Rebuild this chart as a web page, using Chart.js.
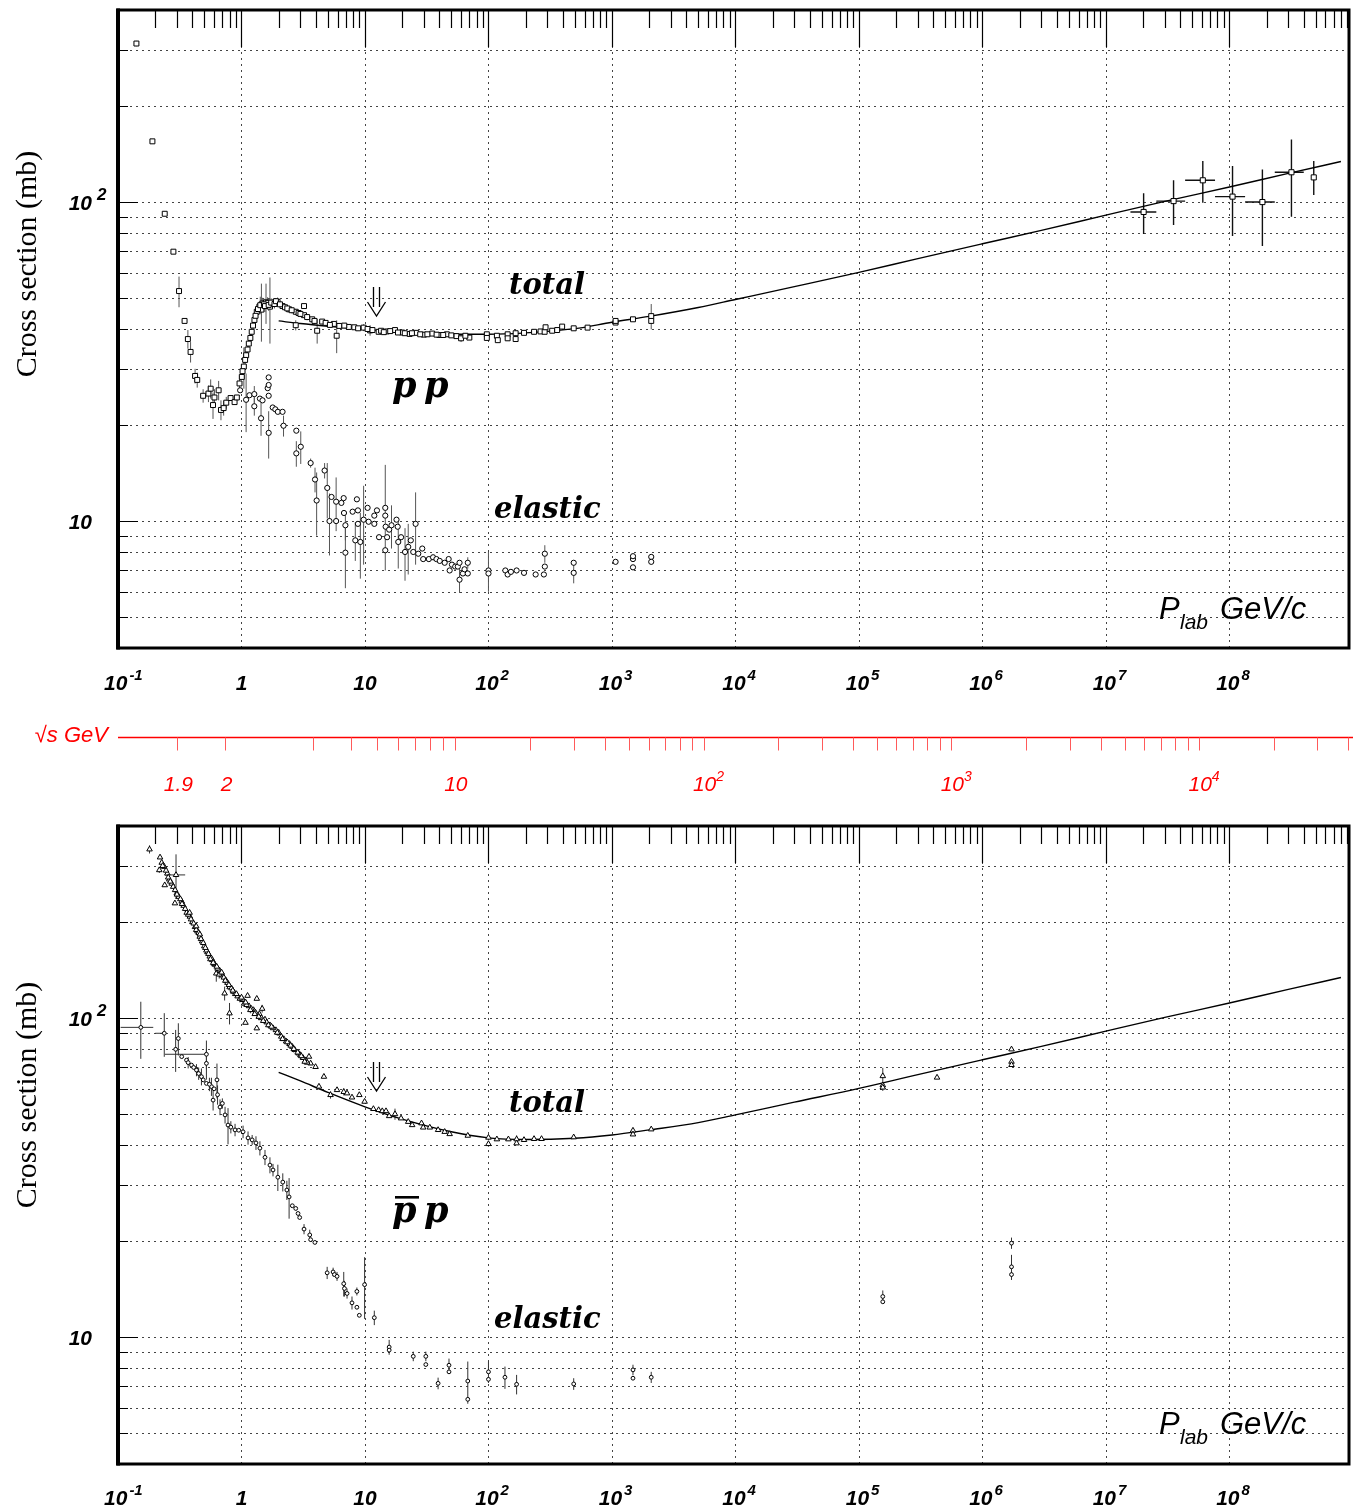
<!DOCTYPE html>
<html>
<head>
<meta charset="utf-8">
<script src="https://cdn.jsdelivr.net/npm/chart.js@4.4.1/dist/chart.umd.min.js"></script>
<style>
  html, body { margin: 0; padding: 0; background: #fff; }
  #wrap { position: relative; width: 1354px; height: 1510px; overflow: hidden; }
  canvas { position: absolute; left: 0; }
</style>
</head>
<body>
<div id="wrap">
  <canvas id="ppChart" width="1354" height="705" style="top:0"></canvas>
  <canvas id="sqrtsAxis" width="1354" height="105" style="top:705px"></canvas>
  <canvas id="pbarChart" width="1354" height="700" style="top:810px"></canvas>
</div>
<script>
// axis ranges and ticks
const pMin = 0.1, pMax = 9.3e8;
const sigMin = 4, sigMax = 400;
const xDecades = [0.1, 1, 10, 1e2, 1e3, 1e4, 1e5, 1e6, 1e7, 1e8];
const xLabelBase = ['10', '1', '10', '10', '10', '10', '10', '10', '10', '10'];
const xLabelExp = ['-1', '', '', '2', '3', '4', '5', '6', '7', '8'];
const yGrid = [5, 6, 7, 8, 9, 10, 20, 30, 40, 50, 60, 70, 80, 90, 100, 200, 300];
const yMajor = [10, 100];
const yLabelExp = ['', '2'];

// sqrt(s) axis
const sqrtsTicks = [1.9, 2, 3, 4, 5, 6, 7, 8, 9, 10, 20, 30, 40, 50, 60, 70, 80, 90,
  100, 200, 300, 400, 500, 600, 700, 800, 900, 1000, 2000, 3000, 4000, 5000, 6000, 7000, 8000, 9000,
  10000, 20000, 30000, 40000];
const sqrtsLabelVals = [1.9, 2, 10, 100, 1000, 10000];
const sqrtsLabelBase = ['1.9', '2', '10', '10', '10', '10'];
const sqrtsLabelExp = ['', '', '', '2', '3', '4'];

// ---- p p total (open squares) ----
const ppTotP = [0.141,0.190,0.239,0.281,0.312,0.346,0.368,0.387,0.421,0.438,
  0.489,0.540,0.563,0.588,0.604,0.653,0.682,0.717,0.753,0.816,
  0.879,0.917,0.964,1.006,1.045,1.091,1.146,1.21,1.273,1.33,
  1.396,1.45,1.484,1.58,1.627,1.70,1.786,1.959,2.148,2.43,
  2.75,2.75,3.21,3.21,3.74,4.1,4.5,5.6,5.9,7.4,
  9.75,11.0,12.9,15.0,17.5,20,23,26,30,35,
  40,46,55,60,70,97,97,117,119,143,
  143,166,166,194,234,264,285,290,328,360,
  395,490,635,1070,1070,1480,2080,2080,
  1.02,1.07,1.12,1.18,1.24,1.30,1.36,1.42,1.52,1.55,
  1.66,1.74,1.85,1.90,2.05,2.25,2.35,2.55,2.9,3.0,
  3.4,3.9,4.8,5.2,6.2,6.8,8.2,8.8,10.5,11.5,
  13.5,14.2,16,18.5,21,24,28,32,38,43,50,65];
const ppTotS = [314,155,91.9,69.9,52.6,42.4,37.2,33.9,28.5,27.7,
  24.7,25.1,26.0,23.1,24.4,25.7,22.3,22.6,23.5,24.3,
  23.6,24.4,27.0,28.3,30.5,33.1,36.0,39.2,42.7,45.3,
  47.0,46.0,48.1,48.5,48.3,47.0,48.1,48.7,47.2,46.1,
  45.3,41.1,44.2,47.2,42.9,39.5,42.2,41.5,38.1,40.6,
  40.4,39.6,39.2,39.3,39.7,39.0,38.6,38.9,38.4,38.7,
  38.3,38.5,38.0,37.4,37.6,38.5,37.5,38.1,36.9,38.5,
  37.4,38.8,37.2,38.9,39.2,39.3,39.2,40.5,39.5,39.7,
  40.7,40.2,40.4,41.9,42.4,42.9,43.9,42.4,
  29.5,32.0,34.5,37.5,41.0,44.0,46.2,47.5,47.8,47.2,
  47.6,48.4,47.9,48.9,47.8,46.8,46.4,45.8,44.9,44.6,
  43.6,42.4,41.8,41.2,40.9,41.0,40.5,40.2,40.0,39.7,
  39.5,39.1,39.4,39.0,38.8,38.8,38.5,38.5,38.4,38.3,38.2,38.1];
const ppTotE = [6,0,0,0,5.8,0,2.5,2.5,1.5,1.5,
  1.2,1.5,1.8,2.2,1.5,1.8,1.6,1.2,1.0,0,
  0,0,1.5,0,4.5,1.5,1.5,1.5,1.5,2,
  2,9.5,2,7,2,11,1.5,1.5,1,1,
  1,1.5,0,0,0,3.5,0,0,4.5,0,
  1,1.5,0,0,0,0,0,0,0,0,
  0,0,0,1,0,0,0,0,0,0,
  0,1,0,0,0,0,0,0,0,0,
  0,0,0,0,0,0,4,0,
  1.5,1.5,1.5,1.5,1.5,2,2,3,2,2,
  2,1.5,1.5,1,1,1,1,1,1,1,
  1,1,0,0,0,0,0,0,0,0,
  0,0,0,0,0,0,0,0,0,0,0,0];

// ---- p p total, cosmic ray points ----
const crP = [2.02e7, 3.53e7, 6.09e7, 1.06e8, 1.85e8, 3.18e8, 4.82e8];
const crS = [93.1, 100.7, 117, 104, 100, 124, 119.5];
const crSLo = [79.4, 84.7, 99.5, 78.2, 72.8, 89.9, 105.2];
const crSHi = [106.5, 117, 134.5, 129.7, 126.6, 157, 134.5];
const crPLo = [1.58e7, 2.56e7, 4.38e7, 7.65e7, 1.34e8, 2.33e8, null];
const crPHi = [2.56e7, 4.38e7, 7.65e7, 1.34e8, 2.33e8, 4.0e8, null];

// ---- p p elastic (open circles) ----
const ppElP = [0.975,1.09,1.16,1.27,1.27,1.41,1.48,1.44,1.63,1.66,
  1.66,1.66,1.66,1.79,1.88,1.97,2.15,2.19,2.78,2.78,
  3.02,3.63,3.94,4.06,4.71,4.95,5.16,5.36,5.84,5.84,
  6.44,6.72,6.76,6.94,6.94,7.94,8.35,8.6,8.77,8.77,
  9.17,9.75,10.5,10.7,11.9,11.9,12.5,13.0,14.6,14.6,
  14.7,14.6,15.1,15.7,16.4,18.0,18.4,18.6,19.6,21.1,
  22.4,23.5,24.6,25.7,27.0,29.1,29.6,32.9,35.6,37.9,
  40.3,44.2,47.6,48.5,50.6,53.8,56.5,58.3,58.3,62.1,
  64,68,68,100,100,137,143,152,169,194,
  241,281,286,286,490,490,1070,1480,1480,1480,
  2080,2080];
const ppElS = [25.7,24.0,24.8,25.0,22.9,24.2,23.9,21.0,26.1,28.2,
  26.7,24.7,18.9,22.7,22.4,22.0,22.0,19.9,19.2,16.3,
  17.1,15.2,13.5,11.6,14.4,12.7,10.0,11.9,11.5,10.0,
  11.4,11.8,10.6,9.7,7.96,10.7,8.7,11.7,10.8,9.8,
  8.6,10.1,11.0,9.95,10.4,9.8,10.8,8.9,11.0,10.4,
  9.6,8.1,8.9,9.4,9.7,10.1,9.6,8.6,8.9,8.0,
  8.3,8.7,8.0,9.8,7.9,8.2,7.6,7.6,7.7,7.6,
  7.5,7.4,7.6,7.0,7.3,7.2,7.2,7.4,6.55,6.85,
  7.06,7.4,6.85,7.0,6.85,7.0,6.8,6.93,7.0,6.88,
  6.8,6.8,7.2,7.9,6.88,7.4,7.45,7.6,7.16,7.76,
  7.72,7.45];
const ppElE = [0,5,0,1.5,1.5,0,0,2.5,0,0,
  0,0,3.2,0,0,0,0,1.5,0,1.5,
  2,0.5,1.2,2.6,0.8,2.5,2.2,0,2.2,0,
  0,0,0,1.0,1.8,0,1.2,0,0,0,
  2,2.8,0,0,0,0,0,0,4,0,
  0,0,0,0,1.5,0,0,1.5,0,1.5,
  1.5,0,0,2.5,0,0,0,0,0,0,
  0,0,0,0,0,0,0,0,0.6,0,
  0,0.3,0,1.0,0,0,0,0,0,0,
  0,0,0,0.5,0.5,0,0,0,0,0,
  0,0];

// ---- pbar p total (open triangles) ----
const pbTotP = [0.18,0.219,0.226,0.216,0.237,0.251,0.26,0.239,0.272,0.299,
  0.289,0.328,0.31,0.34,0.36,0.382,0.40,0.42,0.44,0.459,
  0.48,0.50,0.53,0.553,0.58,0.61,0.625,0.665,0.70,0.73,
  0.75,0.801,0.80,0.86,0.93,1.025,1.077,1.12,1.15,1.25,
  1.33,1.33,1.396,1.47,1.55,1.7,1.9,2.1,2.3,2.58,
  2.9,3.31,3.52,3.63,3.98,4.65,4.24,5.26,5.94,6.73,
  7.16,7.85,9.0,9.93,11.7,12.9,13.8,14.8,15.7,17.5,
  19.6,22.4,24.1,28.7,29.6,33.5,39.1,44.2,48.5,68,
  100,100,117,145,169,169,194,234,269,490,
  1480,1480,2080,1.56e5,1.56e5,1.56e5,4.29e5,1.72e6,1.72e6,1.72e6,
  0.39,0.41,0.43,0.45,0.47,0.49,0.52,0.54,0.57,0.60,
  0.64,0.68,0.72,0.77,0.83,0.89,0.97,1.05,1.10,1.2,
  1.3,1.45,1.6,1.8,2.0,2.2,2.45,2.7,3.0,3.15,3.4];
const pbTotS = [338,319,307,291,298,284,272,261,264,246,
  229,232,240,225,214,208,200,193,187,180,
  174,168,161,156,152,147,138,141,136,119.5,
  131,125,103.5,121,117,114,96.7,117.5,109,106,
  92.9,115,103,107,99,95,91.7,87.5,84.5,81.3,
  77.5,73.8,75.7,72.1,70.3,65.5,61,57.4,59.5,58.7,
  58.1,56.4,57.4,54.7,51.9,51.5,51.1,51.1,49.3,50.0,
  48.5,47.3,46.2,46.8,45.4,45.4,44.6,44.0,43.3,42.8,
  42.2,40.3,41.7,41.7,41.7,40.5,41.5,41.8,41.8,42.3,
  44.4,43.2,44.8,65.8,61.6,60.6,65.1,79.8,73.0,71.3,
  204,198,189,185,177,172,163,159,154,148,
  143,138,134,129,124,119,115,111,110,107,
  104,100,97,93,90,86,83,79.5,76.5,75,72.5];
const pbTotE = [10,0,0,6,0,0,0,0,0,0,
  0,0,0,0,0,0,0,0,0,0,
  0,0,0,0,0,0,8,0,0,6,
  0,0,8,0,0,0,0,0,0,0,
  0,0,0,3,0,0,0,0,0,0,
  0,0,0,0,0,0,0,1.5,0,1.5,
  0,0,0,0,0,0,0,0,0,2,
  0,0,0,0,0,0,0,0,0,0,
  0.8,0.8,0,0,1.2,0,0,0,0,0,
  0,0,0,4,0,1.5,0,0,0,0,
  6,0,5,0,4,0,0,3,0,0,
  3,0,4,0,3,0,3,0,2,0,
  2,0,2,0,2,0,0,0,2,0,0];
// dense low-momentum band of pbar p total measurements
const pbBandP = [0.23,0.245,0.255,0.265,0.28,0.29,0.30,0.32,0.33,0.35,
  0.37,0.38,0.43,0.46,0.51,0.56,0.59,0.63,0.66,0.69,
  0.74,0.79,0.85,0.91,1.0,1.08,1.18,1.28,1.38,1.5,
  1.65,1.75,1.95,2.15,2.35,2.5,2.65,2.85,3.05,3.25];
const pbBandS = [300,290,276,268,258,252,244,236,228,220,
  211,214,194,183,166,153,149,145,137,139,
  131,127,122,119,116,112,106,103,101,98,
  95,94,90,86,84,82,80,78,76,73];
const pbBandE = [0,8,0,6,0,5,0,5,0,5,
  4,0,4,0,4,0,3,0,4,0,
  3,0,3,0,3,0,2.5,0,2.5,0,
  2,0,2,0,2,0,2,0,2,0];
// the one total point with a momentum bin
const pbTotXP = [0.295], pbTotXS = [281], pbTotXE = [45], pbTotXLo = [0.24], pbTotXHi = [0.35];

// ---- pbar p elastic (small open circles) ----
const pbElP = [0.308,0.328,0.359,0.394,0.432,0.474,0.52,0.52,0.571,0.633,
  0.589,0.67,0.736,0.778,0.887,1.03,1.13,1.22,1.31,1.41,
  1.55,1.70,1.80,1.97,2.16,2.33,2.43,2.58,2.75,2.87,
  2.96,3.21,3.57,3.63,3.93,4.94,5.52,5.66,5.94,6.73,
  6.82,7.16,7.85,8.6,8.6,9.0,9.93,11.9,15.7,15.7,
  24.6,31.1,31.1,39.1,47.9,47.9,68,68,100,100,
  136,169,490,1480,1480,2080,1.56e5,1.56e5,1.72e6,1.72e6,
  1.72e6,0.293,0.37,0.41,0.45,0.49,0.55,0.60,0.64,0.70,
  0.82,0.95];
const pbElS = [86.3,75.7,73.8,71.2,68.7,65.5,72.1,62.4,61.0,64.0,
  55.3,52.6,49.7,46.2,44.6,44.0,42.1,41.5,40.6,39.1,
  36.6,34.6,33.4,31.7,30.6,28.9,27.5,25.8,25.3,24.4,
  23.7,21.8,20.9,20.2,19.8,15.9,16.0,15.7,15.5,14.7,
  14.2,13.7,12.8,13.9,12.4,11.7,14.6,11.5,9.3,9.1,
  8.7,8.7,8.2,7.16,8.16,7.78,7.28,6.38,7.78,7.37,
  7.48,7.11,7.13,7.89,7.43,7.48,13.4,12.9,19.7,16.6,
  15.7,79.8,72.5,70,67,64,62,60,57.5,54,
  45.5,44.5];
const pbElE = [10,0,0,0,3,4,8,0,4,8,
  4,3,3,6,2,2,2,1.5,2,2,
  2,2,1.5,3,2,2,4,0,0,0,
  0,0.8,0.8,0,0,0.7,0.5,0,0.5,1.3,
  0.8,0.5,0.6,0.4,0,0,3.2,0.6,0.5,0,
  0.3,0.3,0,0.3,0.4,0,1.1,0,0.6,0,
  0.6,0.5,0.3,0.3,0,0.3,0.6,0,0.8,1.5,
  0,12,3,0,3,0,3,0,4,2,
  2,0];
const pbElXP = [0.153, 0.237, 0.52], pbElXS = [93.5, 89.6, 77], pbElXE = [19, 14, 8];
const pbElXLo = [0.105, 0.2, 0.24], pbElXHi = [0.193, 0.237, 0.52];

// ---- fitted curves ----
const fitP = [2, 3, 5, 10, 20, 50, 100, 200, 500, 1000, 2000, 5000, 1e4, 3e4, 1e5, 3e5, 1e6, 3e6, 1e7, 3e7, 1e8, 3e8, 8e8];
const ppFitS = [42.4, 41.6, 40.8, 39.9, 39.2, 38.6, 38.5, 38.9, 40.1, 42.0, 43.8, 46.7, 49.5, 54.3, 60.2, 66.5, 74, 81.5, 91, 100.5, 111.5, 123, 134];
const pbFitS = [67.6, 63.5, 58.5, 52.7, 48.2, 44.0, 42.1, 41.6, 42.0, 43.0, 44.6, 47.0, 49.7, 54.5, 60.2, 66.5, 74, 81.5, 91, 100.5, 111.5, 123, 134];

const arrowP = 12.3;

const mp = 0.938272;
function plabFromSqrtS(w) {
  const E = (w * w - 2 * mp * mp) / (2 * mp);
  return Math.sqrt(E * E - mp * mp);
}

function pts(ps, ss) { return ps.map((p, i) => ({ x: p, y: ss[i] })); }

const tickFont = 'italic bold 21px "Liberation Sans", Arial, sans-serif';
const supFont = 'italic bold 15px "Liberation Sans", Arial, sans-serif';
const bigLabel = 'italic bold 29px "DejaVu Serif", serif';

function drawErrorBars(chart) {
  const { ctx, chartArea: a, scales: { x, y } } = chart;
  ctx.save();
  ctx.beginPath();
  ctx.rect(a.left, a.top, a.right - a.left, a.bottom - a.top);
  ctx.clip();
  chart.data.datasets.forEach((ds, i) => {
    if (!ds.errY && !ds.yLo) return;
    ctx.strokeStyle = ds.errColor || '#555';
    ctx.lineWidth = ds.errWidth || 1;
    ds.data.forEach((pt, j) => {
      const px = x.getPixelForValue(pt.x);
      const py = y.getPixelForValue(pt.y);
      let lo = null, hi = null;
      if (ds.yLo) { lo = ds.yLo[j]; hi = ds.yHi[j]; }
      else if (ds.errY[j]) { lo = pt.y - ds.errY[j]; hi = pt.y + ds.errY[j]; }
      ctx.beginPath();
      if (lo !== null) {
        ctx.moveTo(px, y.getPixelForValue(Math.max(lo, 0.5)));
        ctx.lineTo(px, y.getPixelForValue(hi));
      }
      if (ds.xLo && ds.xLo[j] !== null) {
        ctx.moveTo(x.getPixelForValue(ds.xLo[j]), py);
        ctx.lineTo(x.getPixelForValue(ds.xHi[j]), py);
      }
      ctx.stroke();
    });
  });
  ctx.restore();
}

function drawPow(ctx, cx, baseline, base, exp, opt) {
  ctx.font = opt.font;
  const bw = ctx.measureText(base).width;
  ctx.font = opt.supFont;
  const sw = exp ? ctx.measureText(exp).width + opt.gap : 0;
  let x0;
  if (opt.align === 'right') x0 = cx - bw;
  else x0 = cx - (bw + sw) / 2 + sw * 0.35;
  ctx.textAlign = 'left';
  ctx.textBaseline = 'alphabetic';
  ctx.font = opt.font;
  ctx.fillText(base, x0, baseline);
  if (exp) {
    ctx.font = opt.supFont;
    ctx.fillText(exp, x0 + bw + opt.gap, baseline - opt.raise);
  }
}

function decorPlugin(t) {
  return {
    id: 'decor',
    beforeDatasetsDraw(chart) {
      const { ctx, chartArea: a, scales: { x, y } } = chart;
      ctx.save();
      ctx.strokeStyle = '#444';
      ctx.lineWidth = 1;
      ctx.setLineDash([2, 4]);
      ctx.beginPath();
      xDecades.forEach(v => {
        const px = Math.round(x.getPixelForValue(v)) + 0.5;
        if (px > a.left + 3 && px < a.right - 3) { ctx.moveTo(px, a.top); ctx.lineTo(px, a.bottom); }
      });
      yGrid.forEach(v => {
        const py = Math.round(y.getPixelForValue(v)) + 0.5;
        ctx.moveTo(a.left, py); ctx.lineTo(a.right, py);
      });
      ctx.stroke();
      ctx.restore();
      drawErrorBars(chart);
    },
    afterDatasetsDraw(chart) {
      const { ctx, chartArea: a, scales: { x, y } } = chart;
      ctx.save();
      ctx.strokeStyle = '#000';
      // ticks on the top edge
      ctx.lineWidth = 1.2;
      ctx.beginPath();
      xDecades.forEach(d => {
        for (let m = 1; m <= 9; m++) {
          const v = d * m;
          if (v > pMax) break;
          const px = Math.round(x.getPixelForValue(v)) + 0.5;
          if (px <= a.left + 2) continue;
          ctx.moveTo(px, a.top);
          ctx.lineTo(px, a.top + (m === 1 ? 37 : 18));
        }
      });
      // ticks on the left edge
      yGrid.forEach(v => {
        const py = Math.round(y.getPixelForValue(v)) + 0.5;
        ctx.moveTo(a.left, py);
        ctx.lineTo(a.left + (yMajor.includes(v) ? 20 : 10), py);
      });
      ctx.stroke();
      // frame
      ctx.lineWidth = 3;
      ctx.strokeRect(a.left, a.top, a.right - a.left, a.bottom - a.top);
      ctx.lineWidth = 4;
      ctx.beginPath();
      ctx.moveTo(a.left, a.top - 1.5); ctx.lineTo(a.left, a.bottom + 1.5);
      ctx.stroke();
      ctx.restore();
    },
    afterDraw(chart) {
      const { ctx, scales: { x, y } } = chart;
      ctx.save();
      ctx.fillStyle = '#000';
      // x tick labels
      xDecades.forEach((v, i) => {
        drawPow(ctx, x.getPixelForValue(v), t.xLabelY, xLabelBase[i], xLabelExp[i],
          { font: tickFont, supFont: supFont, gap: 2, raise: 10, align: 'center' });
      });
      // y tick labels
      yMajor.forEach((v, i) => {
        drawPow(ctx, 92, y.getPixelForValue(v) + 8, '10', yLabelExp[i],
          { font: tickFont, supFont: 'italic bold 17px "Liberation Sans", Arial, sans-serif', gap: 5, raise: 10, align: 'right' });
      });
      // axis title
      ctx.save();
      ctx.translate(t.yTitleX, t.yTitleY);
      ctx.rotate(-Math.PI / 2);
      ctx.font = '30px "Liberation Serif", "Times New Roman", serif';
      ctx.textAlign = 'center';
      ctx.textBaseline = 'middle';
      ctx.fillText('Cross section (mb)', 0, 0);
      ctx.restore();
      // P_lab GeV/c
      ctx.textAlign = 'left';
      ctx.textBaseline = 'alphabetic';
      ctx.font = 'italic 31px "Liberation Sans", Arial, sans-serif';
      ctx.fillText('P', 1159, t.plabY);
      ctx.font = 'italic 21px "Liberation Sans", Arial, sans-serif';
      ctx.fillText('lab', 1180, t.plabY + 10);
      ctx.font = 'italic 31px "Liberation Sans", Arial, sans-serif';
      ctx.fillText('GeV/c', 1220, t.plabY);
      // curve labels
      ctx.font = bigLabel;
      ctx.fillText('total', 509, t.totalY);
      ctx.fillText('elastic', 494, t.elasticY);
      ctx.font = 'italic bold 35px "DejaVu Serif", serif';
      ctx.fillText('p', 392, t.ppY);
      ctx.fillText('p', 424, t.ppY);
      if (t.bar) {
        ctx.fillRect(395, t.ppY - 26, 24, 2.6);
      }
      // arrow
      const ax = Math.round(x.getPixelForValue(arrowP)) + 0.5;
      const ay = t.arrowTop;
      ctx.strokeStyle = '#000';
      ctx.lineWidth = 1.3;
      ctx.beginPath();
      ctx.moveTo(ax - 3, ay); ctx.lineTo(ax - 3, ay + 20);
      ctx.moveTo(ax + 3, ay); ctx.lineTo(ax + 3, ay + 20);
      ctx.moveTo(ax - 9, ay + 15); ctx.lineTo(ax, ay + 29); ctx.lineTo(ax + 9, ay + 15);
      ctx.stroke();
      ctx.restore();
    }
  };
}

function mainChart(id, padTop, padBottom, datasets, t) {
  return new Chart(document.getElementById(id), {
    type: 'scatter',
    data: { datasets },
    options: {
      responsive: false,
      animation: false,
      devicePixelRatio: 1,
      events: [],
      layout: { padding: { left: 118, right: 1, top: padTop, bottom: padBottom } },
      scales: {
        x: { type: 'logarithmic', min: pMin, max: pMax, display: false },
        y: { type: 'logarithmic', min: sigMin, max: sigMax, display: false }
      },
      plugins: { legend: { display: false }, tooltip: { enabled: false } }
    },
    plugins: [decorPlugin(t)]
  });
}

const fitStyle = {
  type: 'line', showLine: true, borderColor: '#000', borderWidth: 1.4,
  pointRadius: 0, cubicInterpolationMode: 'monotone', fill: false, order: 2
};
function markers(style, radius, data, extra) {
  return Object.assign({
    pointStyle: style, pointRadius: radius, backgroundColor: '#fff', borderColor: '#000',
    borderWidth: 1, showLine: false, data, order: 1
  }, extra);
}

// top: p p
mainChart('ppChart', 10, 57, [
  Object.assign({ data: pts(fitP, ppFitS) }, fitStyle),
  markers('circle', 2.6, pts(ppElP, ppElS), { errY: ppElE, errColor: '#555' }),
  markers('rect', 3.5, pts(ppTotP, ppTotS), { errY: ppTotE, errColor: '#555' }),
  markers('rect', 3.6, pts(crP, crS), { yLo: crSLo, yHi: crSHi, xLo: crPLo, xHi: crPHi, errColor: '#111', errWidth: 1.4 })
], { xLabelY: 690, yTitleX: 28, yTitleY: 264, plabY: 619, totalY: 294, elasticY: 518, ppY: 397, bar: false, arrowTop: 287 });

// bottom: pbar p
mainChart('pbarChart', 16, 46, [
  Object.assign({ data: pts(fitP, pbFitS) }, fitStyle),
  markers('circle', 1.9, pts(pbElP, pbElS), { errY: pbElE, errColor: '#333' }),
  markers('circle', 1.9, pts(pbElXP, pbElXS), { errY: pbElXE, xLo: pbElXLo, xHi: pbElXHi, errColor: '#333' }),
  markers('triangle', 3.2, pts(pbBandP, pbBandS), { errY: pbBandE, errColor: '#333' }),
  markers('triangle', 3.2, pts(pbTotP, pbTotS), { errY: pbTotE, errColor: '#333' }),
  markers('triangle', 3.2, pts(pbTotXP, pbTotXS), { errY: pbTotXE, xLo: pbTotXLo, xHi: pbTotXHi, errColor: '#333' })
], { xLabelY: 695, yTitleX: 28, yTitleY: 285, plabY: 624, totalY: 302, elasticY: 518, ppY: 412, bar: true, arrowTop: 252 });

// middle: sqrt(s) axis drawn on its own log scale
const sqrtsPlugin = {
  id: 'sqrtsAxis',
  afterDraw(chart) {
    const { ctx, chartArea: a, scales: { x } } = chart;
    const ly = a.top + 0.5;
    ctx.save();
    ctx.strokeStyle = '#ff0000';
    ctx.lineWidth = 1.3;
    ctx.beginPath();
    ctx.moveTo(a.left, ly); ctx.lineTo(a.right, ly);
    ctx.stroke();
    ctx.strokeStyle = '#ff5a5a';
    ctx.lineWidth = 1;
    ctx.beginPath();
    sqrtsTicks.forEach(w => {
      const px = Math.round(x.getPixelForValue(plabFromSqrtS(w))) + 0.5;
      if (px > a.right + 1) return;
      ctx.moveTo(px, ly); ctx.lineTo(px, ly + 13);
    });
    ctx.stroke();
    ctx.fillStyle = '#ff0000';
    sqrtsLabelVals.forEach((w, i) => {
      const px = x.getPixelForValue(plabFromSqrtS(w));
      ctx.font = 'italic 21px "Liberation Sans", Arial, sans-serif';
      const bw = ctx.measureText(sqrtsLabelBase[i]).width;
      ctx.textAlign = 'left';
      ctx.fillText(sqrtsLabelBase[i], px - bw / 2 + 1, ly + 53);
      if (sqrtsLabelExp[i]) {
        ctx.font = 'italic 14px "Liberation Sans", Arial, sans-serif';
        ctx.fillText(sqrtsLabelExp[i], px + bw / 2 + 1, ly + 43);
      }
    });
    ctx.font = 'italic 22px "Liberation Sans", "DejaVu Sans", sans-serif';
    ctx.textAlign = 'right';
    ctx.fillText('\u221As GeV', 108, ly + 4);
    ctx.restore();
  }
};

new Chart(document.getElementById('sqrtsAxis'), {
  type: 'scatter',
  data: { datasets: [] },
  options: {
    responsive: false,
    animation: false,
    devicePixelRatio: 1,
    events: [],
    layout: { padding: { left: 118, right: 1, top: 32, bottom: 60 } },
    scales: {
      x: { type: 'logarithmic', min: pMin, max: pMax, display: false },
      y: { min: 0, max: 1, display: false }
    },
    plugins: { legend: { display: false }, tooltip: { enabled: false } }
  },
  plugins: [sqrtsPlugin]
});
</script>
</body>
</html>
